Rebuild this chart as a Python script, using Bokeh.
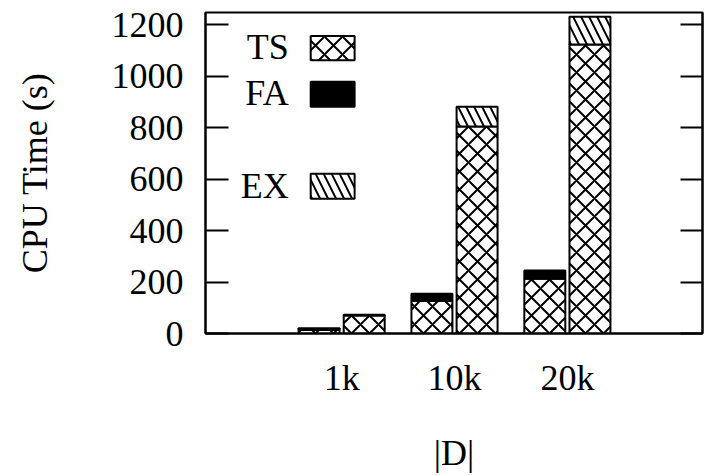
import numpy as np
from bokeh.plotting import figure
from bokeh.models import Range1d, LinearAxis, FixedTicker, ColumnDataSource, BoxAnnotation, Label
from bokeh.embed import file_html
from bokeh.resources import INLINE

# ---- data ----
sizes = ["1k", "10k", "20k"]
ts_a = [14, 126, 213]      # TS part of first bar (TS + FA)
fa = [6, 29, 32]
ts_b = [70, 805, 1124]     # TS part of second bar (TS + EX)
ex = [3, 77, 107]
y_ticks = [0, 200, 400, 600, 800, 1000, 1200]

FONT = "Times"
FS = "36px"

idx = np.arange(len(sizes))
x1 = idx - 0.2
x2 = idx + 0.2
ts_a_arr = np.array(ts_a)
ts_b_arr = np.array(ts_b)

src = ColumnDataSource(dict(
    x1=x1, x2=x2,
    ts_a=ts_a_arr, fa_top=ts_a_arr + np.array(fa),
    ts_b=ts_b_arr, ex_top=ts_b_arr + np.array(ex),
))

p = figure(width=706, height=475, x_range=Range1d(-1.206, 3.197), y_range=Range1d(0, 1248),
           output_backend="svg", toolbar_location=None,
           min_border_left=205, min_border_right=4, min_border_top=12, min_border_bottom=141)
p.xgrid.visible = False
p.ygrid.visible = False
p.outline_line_color = "black"
p.outline_line_width = 2
p.outline_line_alpha = 1
p.background_fill_color = "white"
p.border_fill_color = "white"

W = 0.363
HS = 18
HS_EX = 16
common = dict(line_color="black", line_width=2)
p.vbar(x="x1", width=W, bottom=0, top="ts_a", source=src, fill_color="white",
       hatch_pattern="diagonal_cross", hatch_color="black", hatch_scale=HS, hatch_weight=2, **common)
p.vbar(x="x1", width=W, bottom="ts_a", top="fa_top", source=src, fill_color="black", **common)
p.vbar(x="x2", width=W, bottom=0, top="ts_b", source=src, fill_color="white",
       hatch_pattern="diagonal_cross", hatch_color="black", hatch_scale=HS, hatch_weight=2, **common)
p.vbar(x="x2", width=W, bottom="ts_b", top="ex_top", source=src, fill_color="white",
       hatch_pattern="left_diagonal_line", hatch_color="black", hatch_scale=HS_EX, hatch_weight=2, **common)

# y axis (left)
ya = p.yaxis[0]
ya.ticker = FixedTicker(ticks=y_ticks)
ya.axis_label = "CPU Time (s)"
ya.axis_label_text_font = FONT
ya.axis_label_text_font_size = FS
ya.axis_label_text_font_style = "normal"
ya.axis_label_text_color = "black"
ya.axis_label_standoff = 54
ya.major_label_text_font = FONT
ya.major_label_text_font_size = FS
ya.major_label_text_color = "black"
ya.major_label_standoff = 22
ya.major_tick_in = 23
ya.major_tick_out = 0
ya.major_tick_line_width = 2
ya.minor_tick_line_color = None
ya.axis_line_width = 2

# right mirror axis (ticks only)
ra = LinearAxis(ticker=FixedTicker(ticks=y_ticks), major_tick_in=22, major_tick_out=0,
                major_tick_line_width=2, minor_tick_line_color=None,
                major_label_overrides={t: "" for t in y_ticks},
                major_label_text_color=None, major_label_standoff=0, axis_line_width=2)
p.add_layout(ra, "right")

# x axis
xa = p.xaxis[0]
xa.ticker = FixedTicker(ticks=list(idx))
xa.major_label_overrides = {int(i): s for i, s in zip(idx, sizes)}
xa.major_label_text_font = FONT
xa.major_label_text_font_size = FS
xa.major_label_text_color = "black"
xa.major_label_standoff = 24
xa.major_tick_in = 0
xa.major_tick_out = 0
xa.minor_tick_line_color = None
xa.axis_line_width = 2
xa.axis_label = "|D|"
xa.axis_label_text_font = FONT
xa.axis_label_text_font_size = FS
xa.axis_label_text_font_style = "normal"
xa.axis_label_text_color = "black"
xa.axis_label_standoff = 32

# legend (label then swatch, with a blank slot before EX)
legend_items = [("TS", 1113, 1157, 1062, "diagonal_cross", "white"),
                ("FA", 935, 979, 882, None, "black"),
                ("EX", 573, 621, 524, "left_diagonal_line", "white")]
for name, ty, top, bot, pat, fill in legend_items:
    p.add_layout(Label(x=-0.469, y=ty, text=name, text_align="right", text_baseline="middle",
                       text_font=FONT, text_font_size=FS, text_color="black"))
    kw = dict(left=-0.274, right=0.115, top=top, bottom=bot, fill_color=fill, fill_alpha=1,
              line_color="black", line_width=2, line_alpha=1)
    if pat:
        kw.update(hatch_pattern=pat, hatch_color="black",
                  hatch_scale=HS_EX if pat != "diagonal_cross" else HS, hatch_weight=2)
    p.add_layout(BoxAnnotation(**kw))

open("out.html", "w").write(file_html(p, INLINE))
